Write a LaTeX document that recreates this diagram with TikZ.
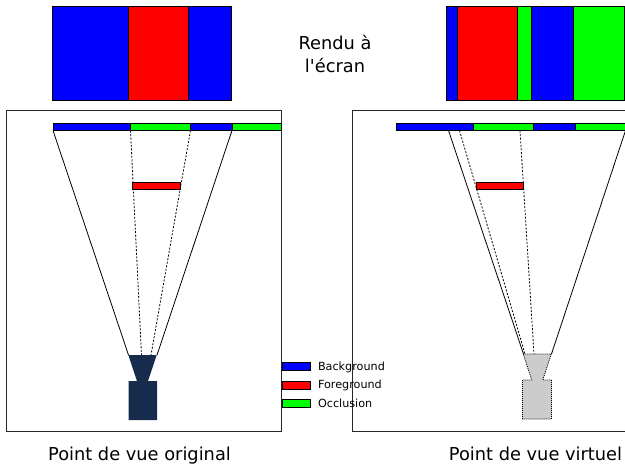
\documentclass[tikz,border=0pt]{standalone}
\usepackage{fontspec}
\newfontfamily\dvsans{DejaVu Sans}
\definecolor{cam}{RGB}{23,43,77}
\definecolor{bgc}{RGB}{0,0,255}
\definecolor{fgc}{RGB}{255,0,0}
\definecolor{occ}{RGB}{0,255,0}
\tikzset{
  seg/.style={draw=black,line width=0.9pt},
  frame/.style={draw=black!85,line width=0.9pt},
  ray/.style={draw=black,line width=0.8pt},
  dray/.style={draw=black,line width=0.8pt,dash pattern=on 2pt off 1.6pt},
  big/.style={font=\dvsans\fontsize{17.8}{23}\selectfont,align=center},
  small/.style={font=\dvsans\fontsize{11.2}{13}\selectfont,anchor=base west}
}
\begin{document}
\begin{tikzpicture}[x=1pt,y=-1pt]
\useasboundingbox (0,0) rectangle (625,466);
\clip (0,0) rectangle (625,466);
% top screens
\draw[seg,fill=bgc] (52.5,6) rectangle (128.5,100);
\draw[seg,fill=fgc] (128.5,6) rectangle (188.5,100);
\draw[seg,fill=bgc] (188.5,6) rectangle (231,100);
\draw[seg,fill=bgc] (446.5,6) rectangle (457.5,100);
\draw[seg,fill=fgc] (457.5,6) rectangle (517,100);
\draw[seg,fill=occ] (517,6) rectangle (531.5,100);
\draw[seg,fill=bgc] (531.5,6) rectangle (573.5,100);
\draw[seg,fill=occ] (573.5,6) rectangle (624,100);
\node[big] (rendu) at (335,54) {Rendu à\\l'écran};
% frames
\draw[frame] (6,110.5) rectangle (281.5,431);
\draw[frame] (352.5,110.5) rectangle (640,431);
% left rays
\coordinate (la) at (53,130.5); \coordinate (lb) at (130.5,130.5);
\coordinate (lc) at (190.5,130.5); \coordinate (ld) at (232,130.5);
\coordinate (lca) at (128.5,355); \coordinate (lcb) at (141.5,355);
\coordinate (lcc) at (151,355); \coordinate (lcd) at (157,355);
\draw[ray] (la) -- (lca);
\draw[ray] (ld) -- (lcd);
\draw[dray] (lb) -- (lcb);
\draw[dray] (lc) -- (lcc);
% right rays
\coordinate (ra) at (448.5,130.5); \coordinate (rb) at (459.5,130.5);
\coordinate (rc) at (520,130.5); \coordinate (rd) at (625.5,130.5);
\coordinate (rca) at (523.5,354); \coordinate (rcb) at (525,354);
\coordinate (rcc) at (534,354); \coordinate (rcd) at (551.5,354);
\draw[ray] (ra) -- (rca);
\draw[ray] (rd) -- (rcd);
\draw[dray] (rb) -- (rcb);
\draw[dray] (rc) -- (rcc);
% left bar
\draw[seg,fill=bgc] (53,123) rectangle (130.5,130.5);
\draw[seg,fill=occ] (130.5,123) rectangle (190.5,130.5);
\draw[seg,fill=bgc] (190.5,123) rectangle (232,130.5);
\draw[seg,fill=occ] (232,123) rectangle (281,130.5);
\draw[seg,fill=fgc] (132.5,182.5) rectangle (180,189.5);
% right bar
\draw[seg,fill=bgc] (396.5,123) rectangle (473.5,130.5);
\draw[seg,fill=occ] (473.5,123) rectangle (533.5,130.5);
\draw[seg,fill=bgc] (533.5,123) rectangle (575.5,130.5);
\draw[seg,fill=occ] (575.5,123) rectangle (640,130.5);
\draw[seg,fill=fgc] (476,182.5) rectangle (523.5,189.5);
% cameras
\fill[cam] (128.3,355) -- (156.7,355) -- (148,381) -- (157,381) -- (157,420) -- (128.5,420) -- (128.5,381) -- (137,381) -- cycle;
\draw[fill=black!20,draw=black,line width=0.8pt,dash pattern=on 1pt off 1pt]
  (523.3,354) -- (551.3,354) -- (542.7,380) -- (551.5,380) -- (551.5,419) -- (522.5,419) -- (522.5,380) -- (531.7,380) -- cycle;
% legend
\draw[seg,fill=bgc] (282,362) rectangle (310,370.5);
\draw[seg,fill=fgc] (282,381) rectangle (310,389);
\draw[seg,fill=occ] (282,399.5) rectangle (310,407.5);
\node[small] (lg1) at (314.5,370) {Background};
\node[small] (lg2) at (314.5,388) {Foreground};
\node[small] (lg3) at (314.5,407) {Occlusion};
% captions
\node[big,anchor=base] (c1) at (139.5,460) {Point de vue original};
\node[big,anchor=base] (c2) at (535.5,460) {Point de vue virtuel};
\end{tikzpicture}
\end{document}
